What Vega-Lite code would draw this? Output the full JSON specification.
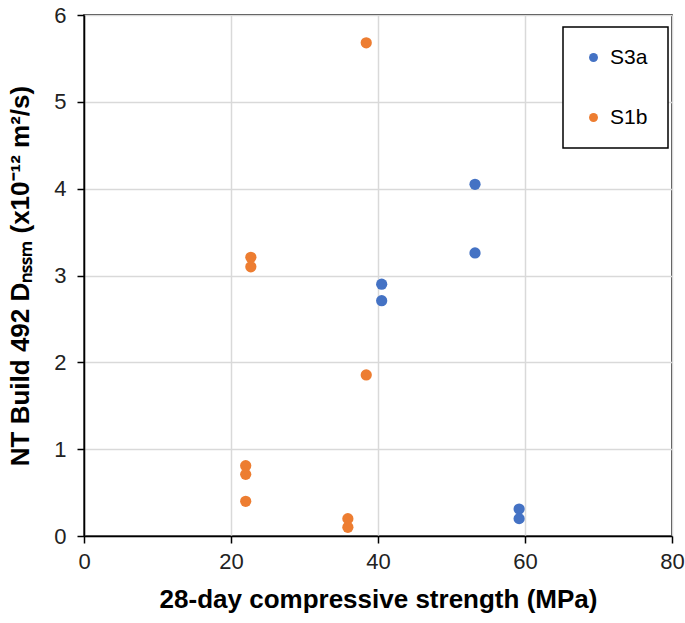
{
  "$schema": "https://vega.github.io/schema/vega-lite/v6.json",
  "width": 588,
  "height": 521,
  "autosize": {"type": "none"},
  "padding": {"left": 84, "top": 15, "right": 13, "bottom": 87},
  "background": "white",
  "config": {
    "font": "Liberation Sans",
    "view": {"stroke": "black", "strokeWidth": 1.5},
    "axis": {
      "gridColor": "#d9d9d9",
      "gridWidth": 1.5,
      "domainColor": "black",
      "domainWidth": 1.5,
      "tickColor": "black",
      "tickWidth": 1.5,
      "tickSize": 7,
      "labelFontSize": 22,
      "labelColor": "#222222",
      "labelFont": "Liberation Sans",
      "labelFlush": false,
      "labelOverlap": false,
      "titleFont": "Liberation Sans",
      "titleFontSize": 26,
      "titleFontWeight": "bold",
      "titleColor": "black"
    }
  },
  "data": {
    "values": [
      {"series": "S3a", "strength": 53.2, "dnssm": 4.05},
      {"series": "S3a", "strength": 53.2, "dnssm": 3.26},
      {"series": "S3a", "strength": 40.5, "dnssm": 2.90},
      {"series": "S3a", "strength": 40.5, "dnssm": 2.71},
      {"series": "S3a", "strength": 59.2, "dnssm": 0.31},
      {"series": "S3a", "strength": 59.2, "dnssm": 0.20},
      {"series": "S1b", "strength": 38.4, "dnssm": 5.68},
      {"series": "S1b", "strength": 22.7, "dnssm": 3.21},
      {"series": "S1b", "strength": 22.7, "dnssm": 3.10},
      {"series": "S1b", "strength": 38.4, "dnssm": 1.855},
      {"series": "S1b", "strength": 22.0, "dnssm": 0.81},
      {"series": "S1b", "strength": 22.0, "dnssm": 0.71},
      {"series": "S1b", "strength": 22.0, "dnssm": 0.40},
      {"series": "S1b", "strength": 35.9, "dnssm": 0.20},
      {"series": "S1b", "strength": 35.9, "dnssm": 0.10}
    ]
  },
  "mark": {"type": "circle", "size": 126, "opacity": 1},
  "encoding": {
    "x": {
      "field": "strength",
      "type": "quantitative",
      "scale": {"domain": [0, 80], "nice": false},
      "axis": {"values": [0, 20, 40, 60, 80], "title": "28-day compressive strength (MPa)", "labelPadding": 8, "titlePadding": 14}
    },
    "y": {
      "field": "dnssm",
      "type": "quantitative",
      "scale": {"domain": [0, 6], "nice": false},
      "axis": {"values": [0, 1, 2, 3, 4, 5, 6], "title": "NT Build 492 Dₙₛₛₘ (x10⁻¹² m²/s)", "labelPadding": 11, "titlePadding": 20}
    },
    "color": {
      "field": "series",
      "type": "nominal",
      "scale": {"domain": ["S3a", "S1b"], "range": ["#4472C4", "#ED7D31"]},
      "legend": {
        "title": null,
        "orient": "none",
        "legendX": 479,
        "legendY": 12,
        "strokeColor": "black",
        "padding": 20,
        "symbolType": "circle",
        "symbolSize": 80,
        "symbolOpacity": 1,
        "labelFontSize": 21,
        "labelColor": "black",
        "labelOffset": 6,
        "rowPadding": 38,
        "fillColor": "white",
        "encode": {"legend": {"update": {"strokeWidth": {"value": 1.5}}}}
      }
    }
  }
}
